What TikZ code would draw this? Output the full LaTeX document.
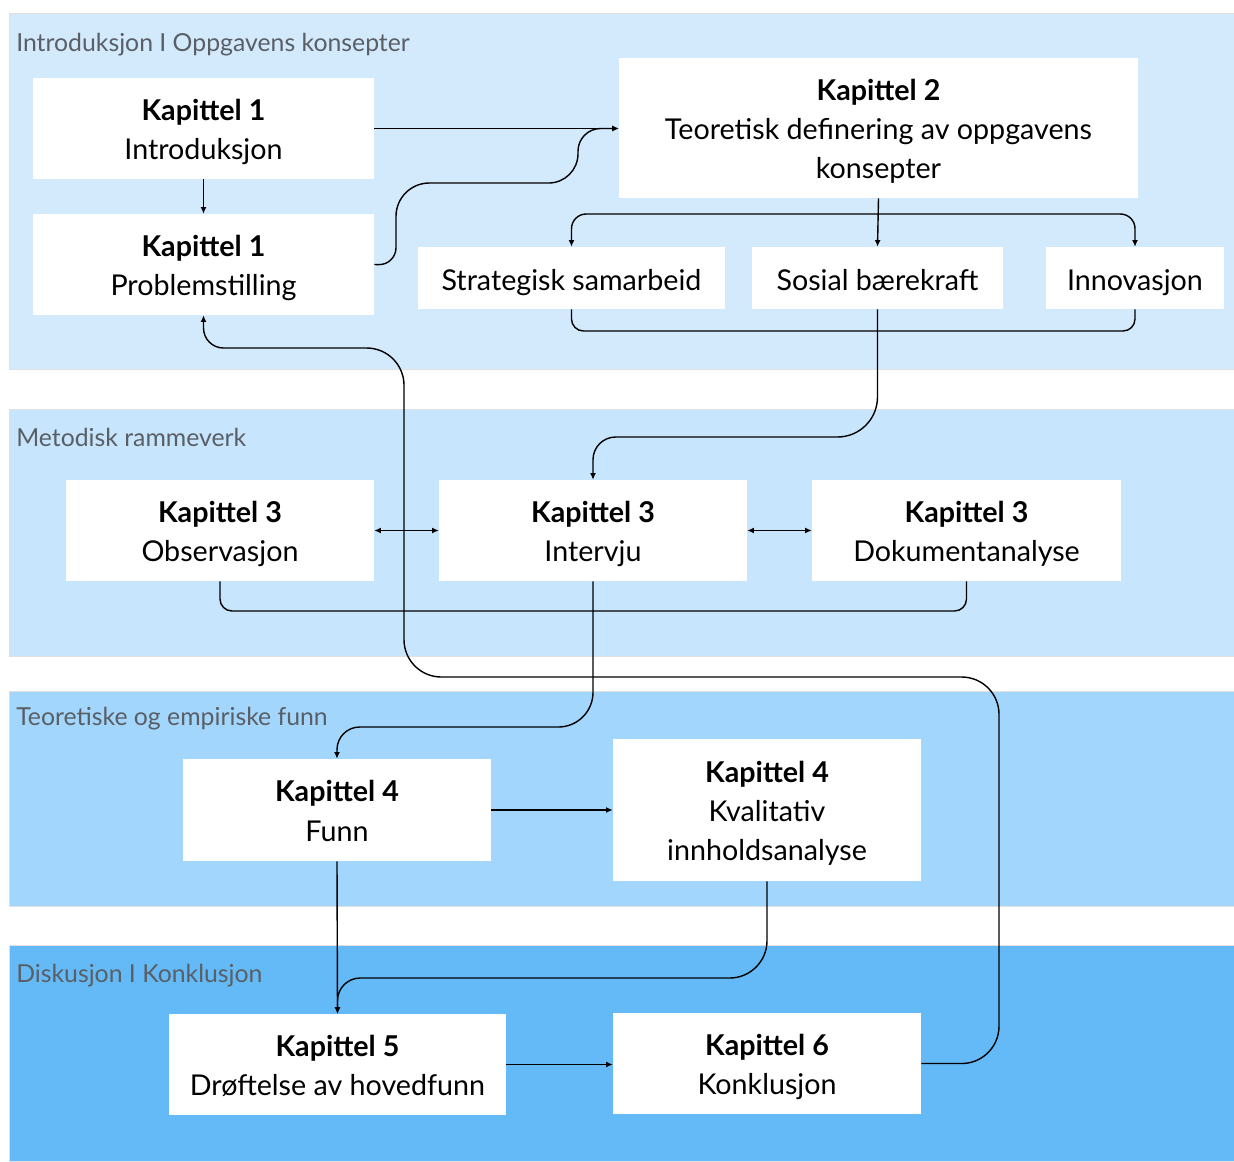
\documentclass[tikz,border=0pt]{standalone}
\usepackage{fontspec}
\setmainfont{Lato}
\usetikzlibrary{arrows.meta}
\definecolor{bandA}{HTML}{D3E9FC}
\definecolor{bandB}{HTML}{C7E5FC}
\definecolor{bandC}{HTML}{A2D6FC}
\definecolor{bandD}{HTML}{63BAF6}
\definecolor{labelgray}{HTML}{5A5F66}
% fixed line metrics so every card sets its text at the same height
\newcommand{\toprow}{\rule{0pt}{21.7pt}}
\newcommand{\lastrow}{\rule[-4.3pt]{0pt}{4.3pt}}
\begin{document}
\begin{tikzpicture}[x=0.75pt,y=-0.75pt,
  >={Latex[length=5pt,width=4.5pt]},
  band/.style={fill=#1, draw=black!12, line width=0.6pt},
  bandlabel/.style={anchor=west, text=labelgray, font=\fontsize{18.6}{22}\selectfont,
    inner sep=0pt, text height=13.5pt, text depth=4pt},
  card/.style 2 args={fill=white, draw=none, minimum width=#1*0.75pt, minimum height=#2*0.75pt,
    inner sep=0pt, align=center, font=\fontsize{21.5}{29.5}\selectfont, text=black},
  oneline/.style={text height=22.5pt, text depth=4.5pt},
  link/.style={line width=1.05pt, draw=black},
]
% page frame
\useasboundingbox[fill=white] (0,0) rectangle (1234,1161);

% section bands
\path[band=bandA] (9,13) rectangle (1234,369);
\path[band=bandB] (9,409) rectangle (1234,656);
\path[band=bandC] (9,691) rectangle (1234,906);
\path[band=bandD] (9,945) rectangle (1234,1161);

\node[bandlabel] (labA) at (16,45) {Introduksjon I Oppgavens konsepter};
\node[bandlabel] (labB) at (16,440) {Metodisk rammeverk};
\node[bandlabel] (labC) at (16,719) {Teoretiske og empiriske funn};
\node[bandlabel] (labD) at (16,976) {Diskusjon I Konklusjon};

% chapter cards
\node[card={341}{101}] (k1a) at (203.5,128.5) {\toprow\textbf{Kapittel 1}\\Introduksjon\lastrow};
\node[card={341}{101}] (k1b) at (203.5,264.5) {\toprow\textbf{Kapittel 1}\\Problemstilling\lastrow};
\node[card={519}{140}] (k2) at (878.5,128) {\toprow\textbf{Kapittel 2}\\Teoretisk definering av oppgavens\\konsepter\lastrow};
\node[card={307}{62},oneline] (ss) at (571.5,278) {Strategisk samarbeid};
\node[card={251}{62},oneline] (sb) at (877.5,278) {Sosial bærekraft};
\node[card={178}{62},oneline] (inn) at (1135,278) {Innovasjon};
\node[card={308}{101}] (k3o) at (220,530.5) {\toprow\textbf{Kapittel 3}\\Observasjon\lastrow};
\node[card={308}{101}] (k3i) at (593,530.5) {\toprow\textbf{Kapittel 3}\\Intervju\lastrow};
\node[card={309}{101}] (k3d) at (966.5,530.5) {\toprow\textbf{Kapittel 3}\\Dokumentanalyse\lastrow};
\node[card={308}{102}] (k4f) at (337,810) {\toprow\textbf{Kapittel 4}\\Funn\lastrow};
\node[card={308}{142}] (k4k) at (767,810) {\toprow\textbf{Kapittel 4}\\Kvalitativ\\innholdsanalyse\lastrow};
\node[card={337}{101}] (k5) at (337.5,1064.5) {\toprow\textbf{Kapittel 5}\\Drøftelse av hovedfunn\lastrow};
\node[card={308}{101}] (k6) at (767,1063.5) {\toprow\textbf{Kapittel 6}\\Konklusjon\lastrow};

% introduction links
\draw[link,->] (k1a.east) -- (k1a.east -| k2.west);
\draw[link,->] (k1a.south) -- (k1b.north);
\draw[link,->] (k1b.east) [rounded corners=13pt] -- (396,265) [rounded corners=25pt] -- (396,183)
  [rounded corners=22pt] -- (578,183) [rounded corners=17pt] -- (578,128.5) -- (k1a.east -| k2.west);

% concept fan-out and merge
\draw[link,->] (k2.south) -- (sb.north);
\draw[link,<->,rounded corners=11pt] (ss.north) -- (571.5,214) -- (1135,214) -- (inn.north);
\draw[link,rounded corners=9pt] (ss.south) -- (571.5,331) -- (1135,331) -- (inn.south);
\draw[link,->] (sb.south) [rounded corners=30pt] -- (877.5,437) [rounded corners=17pt] -- (593,437) -- (k3i.north);

% method links
\draw[link,<->] (k3o.east) -- (k3i.west);
\draw[link,<->] (k3i.east) -- (k3d.west);
\draw[link,rounded corners=9pt] (k3o.south) -- (220,611) -- (966.5,611) -- (k3d.south);
\draw[link,->] (k3i.south) [rounded corners=26pt] -- (593,727) [rounded corners=17pt] -- (337,727) -- (k4f.north);

% findings and discussion
\draw[link,->] (k4f.east) -- (k4k.west);
\draw[link,->] (k4f.south) -- (k5.north);
\draw[link,->] (k4k.south) [rounded corners=28pt] -- (767,978) [rounded corners=17pt] -- (337.5,978) -- (k5.north);
\draw[link,->] (k5.east) -- (k5.east -| k6.west);

% conclusion loops back to the research question
\draw[link,->] (k6.east) [rounded corners=28pt] -- (999,1063.5) -- (999,677) -- (404,677) -- (404,348)
  [rounded corners=15pt] -- (203.5,348) -- (k1b.south);
\end{tikzpicture}
\end{document}
